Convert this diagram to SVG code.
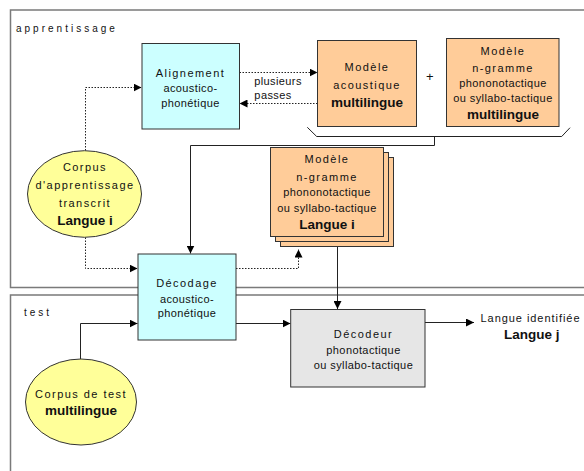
<svg xmlns="http://www.w3.org/2000/svg" width="584" height="471" viewBox="0 0 584 471">
<style>
text{font-family:"Liberation Sans",Arial,sans-serif;fill:#111;text-anchor:middle}
.t{font-size:11px;letter-spacing:0.4px}
.ts{font-size:11px;letter-spacing:1.45px}
.b{font-size:13.5px;font-weight:bold}
.lbl{font-size:10px;letter-spacing:3px;text-anchor:start}
.frame{fill:none;stroke:#7a7a7a;stroke-width:1.5}
.box{stroke:#333;stroke-width:1}
.cy{fill:#ccffff}
.or{fill:#ffcc99}
.ye{fill:#ffff99}
.gr{fill:#e6e6e6}
.ln{fill:none;stroke:#222;stroke-width:1}
.dot{fill:none;stroke:#222;stroke-width:1;stroke-dasharray:1.5 1.5}
</style>
<defs>
<marker id="ah" markerWidth="8" markerHeight="8" refX="8" refY="4" orient="auto" markerUnits="userSpaceOnUse">
<path d="M0,0 L8,4 L0,8 Z" fill="#000"/>
</marker>
</defs>
<g id="frames">
<path class="frame" d="M590,10 H10.5 V287.5 H590"/>
<path class="frame" d="M590,295 H10.5 V480"/>
<text class="lbl" x="16" y="32">apprentissage</text>
<text class="lbl" x="24" y="316">test</text>
</g>
<g id="connectors">
<path class="dot" d="M85.5,150.5 V87.5 H141.5" marker-end="url(#ah)"/>
<path class="dot" d="M239.5,72.5 H317.5" marker-end="url(#ah)"/>
<path class="dot" d="M317.5,103.5 H239.5" marker-end="url(#ah)"/>
<path class="ln" d="M307.3,127.3 L316.7,136.5 H561.7 L570,127.7"/>
<path class="ln" d="M434.5,136.5 V145.5 H190.5 V253.5" marker-end="url(#ah)"/>
<path class="dot" d="M85.5,237.5 V268.5 H137.5" marker-end="url(#ah)"/>
<path class="dot" d="M236,268.5 H298.5 V249.5" marker-end="url(#ah)"/>
<path class="ln" d="M337.5,246.5 V309" marker-end="url(#ah)"/>
<path class="ln" d="M80.5,359 V323.5 H137.5" marker-end="url(#ah)"/>
<path class="ln" d="M236,323.5 H290.5" marker-end="url(#ah)"/>
<path class="ln" d="M425,322.5 H474" marker-end="url(#ah)"/>
<text class="t" x="278" y="84.5">plusieurs</text>
<text class="t" x="273" y="99">passes</text>
<text class="t" x="430" y="81" style="font-size:13px">+</text>
</g>
<g id="alignement">
<rect class="box cy" x="142" y="43.5" width="97.5" height="85.5"/>
<text class="ts" x="190.5" y="77">Alignement</text>
<text class="t" x="190.5" y="92">acoustico-</text>
<text class="t" x="190.5" y="106.5">phonétique</text>
</g>
<g id="modele-acoustique">
<rect class="box or" x="317.5" y="40.5" width="99" height="86"/>
<text class="ts" x="367" y="71">Modèle</text>
<text class="ts" x="367" y="89">acoustique</text>
<text class="b" x="367" y="106.5">multilingue</text>
</g>
<g id="modele-ngramme-multi">
<rect class="box or" x="446.5" y="38.5" width="112.5" height="88"/>
<text class="ts" x="503" y="54.5">Modèle</text>
<text class="ts" x="503" y="72">n-gramme</text>
<text class="t" x="503" y="87">phononotactique</text>
<text class="t" x="503" y="101.7">ou syllabo-tactique</text>
<text class="b" x="503" y="119">multilingue</text>
</g>
<g id="modele-langue-i">
<rect class="box or" x="280.5" y="157.5" width="113" height="89"/>
<rect class="box or" x="275.5" y="152.5" width="113" height="89"/>
<rect class="box or" x="270.5" y="147.5" width="113" height="89"/>
<text class="ts" x="327" y="163.3">Modèle</text>
<text class="ts" x="327" y="181">n-gramme</text>
<text class="t" x="327" y="196">phononotactique</text>
<text class="t" x="327" y="211.7">ou syllabo-tactique</text>
<text class="b" x="327" y="229.3">Langue i</text>
</g>
<g id="corpus-apprentissage">
<ellipse class="box ye" cx="84.5" cy="194" rx="57" ry="43.3"/>
<text class="ts" x="85" y="170.7">Corpus</text>
<text class="ts" x="85" y="189">d'apprentissage</text>
<text class="ts" x="85" y="206.7">transcrit</text>
<text class="b" x="85" y="225">Langue i</text>
</g>
<g id="decodage">
<rect class="box cy" x="138" y="254" width="98" height="86"/>
<text class="ts" x="187" y="287.3">Décodage</text>
<text class="t" x="187" y="302.7">acoustico-</text>
<text class="t" x="187" y="317.3">phonétique</text>
</g>
<g id="decodeur">
<rect class="box gr" x="290.7" y="309.5" width="134.3" height="77.5"/>
<text class="ts" x="363.5" y="338.3">Décodeur</text>
<text class="t" x="363.5" y="354">phonotactique</text>
<text class="t" x="363.5" y="369">ou syllabo-tactique</text>
</g>
<g id="langue-identifiee">
<text class="ts" x="480.5" y="321.7" style="text-anchor:start;letter-spacing:0.95px">Langue identifiée</text>
<text class="b" x="531.7" y="339.3">Langue j</text>
</g>
<g id="corpus-test">
<ellipse class="box ye" cx="81" cy="402" rx="55.5" ry="43"/>
<text class="ts" x="81" y="397.7">Corpus de test</text>
<text class="b" x="81" y="415">multilingue</text>
</g>
</svg>
